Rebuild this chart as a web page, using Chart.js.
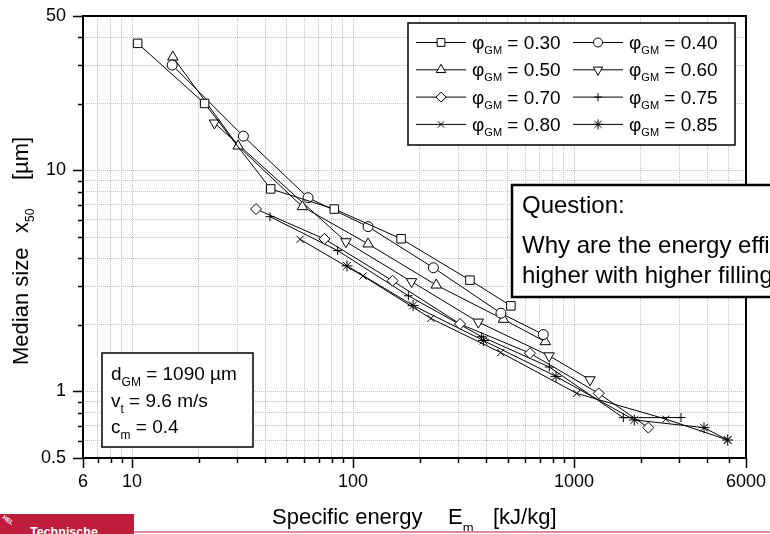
<!DOCTYPE html>
<html>
<head>
<meta charset="utf-8">
<title>Median size vs specific energy</title>
<script src="https://cdn.jsdelivr.net/npm/chart.js"></script>
<style>
  body { margin: 0; background: #fff; }
  #wrap { position: relative; width: 770px; height: 534px; overflow: hidden; background: #fff; }
  #logo { position: absolute; left: 0; top: 514px; width: 134px; height: 20px; background: #be1e3c; overflow: hidden; }
  #logo span { position: absolute; left: 30px; top: 11px; color: #fff; font: bold 12.5px "Liberation Sans", Arial, sans-serif; }
  #logo i { position: absolute; left: 2px; top: 3px; color: #fff; font: bold 6px "Liberation Sans", Arial, sans-serif; font-style: normal; transform: rotate(35deg); }
  #rule { position: absolute; left: 134px; top: 531px; width: 636px; height: 2px; background: #dc8c9c; }
</style>
</head>
<body>
<div id="wrap">
  <canvas id="chart" width="770" height="534"></canvas>
  <div id="logo"><i>HEL</i><span>Technische</span></div>
  <div id="rule"></div>
</div>
<script>
// tick values (grid) and labelled ticks
const xTicks = [6, 7, 8, 9, 10, 20, 30, 40, 50, 60, 70, 80, 90, 100, 200, 300, 400, 500, 600, 700, 800, 900, 1000, 2000, 3000, 4000, 5000, 6000];
const xTickLabels = [6, 10, 100, 1000, 6000];
const yTicks = [0.5, 0.6, 0.7, 0.8, 0.9, 1, 2, 3, 4, 5, 6, 7, 8, 9, 10, 20, 30, 40, 50];
const yTickLabels = [0.5, 1, 10, 50];

// filling ratio phi_GM
const phiValues = ["0.30", "0.40", "0.50", "0.60", "0.70", "0.75", "0.80", "0.85"];

// specific energy E_m [kJ/kg] and median size x50 [um] per filling ratio
const e30 = [10.6, 21.3, 42.4, 82.3, 165, 338, 518];
const x30 = [37.6, 20.1, 8.25, 6.69, 4.91, 3.19, 2.44];
const e40 = [15.2, 31.9, 62.6, 117, 231, 467, 726];
const x40 = [30.0, 14.3, 7.53, 5.57, 3.63, 2.26, 1.81];
const e50 = [15.3, 30.2, 59.0, 117, 238, 479, 742];
const x50s = [32.6, 12.9, 6.86, 4.65, 3.03, 2.12, 1.68];
const e60 = [23.6, 92.9, 184, 369, 771, 1181];
const x60 = [16.4, 4.76, 3.14, 2.06, 1.45, 1.13];
const e70 = [36.4, 74.2, 151, 305, 632, 1293, 2169];
const x70 = [6.69, 4.90, 3.17, 2.02, 1.49, 0.98, 0.686];
const e75 = [42.1, 85.2, 178, 382, 773, 1671, 3048];
const x75 = [6.18, 4.34, 2.71, 1.77, 1.29, 0.761, 0.762];
const e80 = [57.6, 111, 225, 466, 1029, 2601, 4957];
const x80 = [4.88, 3.33, 2.14, 1.50, 0.98, 0.75, 0.603];
const e85 = [93.9, 187, 389, 829, 1874, 3874, 4957];
const x85 = [3.70, 2.45, 1.70, 1.17, 0.743, 0.686, 0.603];

const energies = [e30, e40, e50, e60, e70, e75, e80, e85];
const sizes = [x30, x40, x50s, x60, x70, x75, x80, x85];

// marker looks
const styles = [
    { pointStyle: "rect", rotation: 0, radius: 6 },
    { pointStyle: "circle", rotation: 0, radius: 5 },
    { pointStyle: "triangle", rotation: 0, radius: 6 },
    { pointStyle: "triangle", rotation: 180, radius: 6 },
    { pointStyle: "rectRot", rotation: 0, radius: 5.5 },
    { pointStyle: "cross", rotation: 0, radius: 4.5 },
    { pointStyle: "crossRot", rotation: 0, radius: 5 },
    { pointStyle: "star", rotation: 0, radius: 5.5 }
];

const FONT = '"Liberation Sans", Arial, sans-serif';

const datasets = phiValues.map((phi, i) => ({
    label: "phi_GM = " + phi,
    data: energies[i].map((e, k) => ({ x: e, y: sizes[i][k] })),
    showLine: true,
    borderColor: "#000",
    borderWidth: 1,
    tension: 0,
    pointStyle: styles[i].pointStyle,
    pointRotation: styles[i].rotation,
    pointRadius: styles[i].radius,
    pointHoverRadius: styles[i].radius,
    pointBackgroundColor: "#fff",
    pointBorderColor: "#000",
    pointBorderWidth: 1,
    clip: false
}));

// draw text made of parts, some of them subscript
function richText(ctx, parts, x, y, size, subSize, drop) {
    let cx = x;
    parts.forEach(p => {
        if (p.at !== undefined) cx = x + p.at;
        ctx.font = (p.sub ? subSize : size) + "px " + FONT;
        ctx.fillText(p.t, cx, p.sub ? y + drop : y);
        cx += ctx.measureText(p.t).width;
    });
    return cx;
}

function marker(ctx, st, x, y) {
    ctx.save();
    ctx.fillStyle = "#fff";
    ctx.strokeStyle = "#000";
    ctx.lineWidth = 1;
    Chart.helpers.drawPoint(ctx, { pointStyle: st.pointStyle, rotation: st.rotation, radius: st.radius - 0.5, borderWidth: 1 }, x, y);
    ctx.restore();
}

const decorPlugin = {
    id: "decor",
    afterDatasetsDraw(chart) {
        const ctx = chart.ctx;
        const a = chart.chartArea;
        const sx = chart.scales.x, sy = chart.scales.y;
        ctx.save();
        ctx.strokeStyle = "#000";
        ctx.fillStyle = "#000";

        // frame
        ctx.lineWidth = 2;
        ctx.strokeRect(a.left, a.top, a.right - a.left, a.bottom - a.top);

        // outward tick marks
        ctx.lineWidth = 1.5;
        ctx.beginPath();
        sx.ticks.forEach(t => {
            const px = Math.round(sx.getPixelForValue(t.value)) + 0.5;
            const len = xTickLabels.includes(t.value) ? 10 : 5;
            ctx.moveTo(px, a.bottom);
            ctx.lineTo(px, a.bottom + len);
        });
        sy.ticks.forEach(t => {
            const py = Math.round(sy.getPixelForValue(t.value)) + 0.5;
            const len = yTickLabels.includes(t.value) ? 10 : 5;
            ctx.moveTo(a.left, py);
            ctx.lineTo(a.left - len, py);
        });
        ctx.stroke();

        // legend box
        ctx.fillStyle = "#fff";
        ctx.fillRect(408, 23, 327, 122);
        ctx.lineWidth = 1.5;
        ctx.strokeRect(408, 23, 327, 122);
        ctx.fillStyle = "#000";
        ctx.textBaseline = "alphabetic";
        ctx.textAlign = "left";
        phiValues.forEach((phi, i) => {
            const col = i % 2, row = Math.floor(i / 2);
            const x0 = col === 0 ? 416 : 573;
            const yc = 42 + row * 27.3;
            ctx.lineWidth = 1;
            ctx.beginPath();
            ctx.moveTo(x0, yc + 0.5);
            ctx.lineTo(x0 + 50, yc + 0.5);
            ctx.stroke();
            marker(ctx, styles[i], x0 + 25, yc + 0.5);
            richText(ctx, [{ t: "φ" }, { t: "GM", sub: true }, { t: " = " + phi }], x0 + 56, yc + 7, 19, 11, 5);
        });

        // parameter box
        ctx.fillStyle = "#fff";
        ctx.fillRect(102, 353, 151, 94);
        ctx.lineWidth = 1.5;
        ctx.strokeRect(102, 353, 151, 94);
        ctx.fillStyle = "#000";
        richText(ctx, [{ t: "d" }, { t: "GM", sub: true }, { t: " = 1090 µm" }], 111, 380, 19, 12, 6);
        richText(ctx, [{ t: "v" }, { t: "t", sub: true }, { t: " = 9.6 m/s" }], 111, 407, 19, 12, 6);
        richText(ctx, [{ t: "c" }, { t: "m", sub: true }, { t: " = 0.4" }], 111, 433, 19, 12, 6);

        // question box
        ctx.fillStyle = "#fff";
        ctx.fillRect(512, 185, 300, 112);
        ctx.lineWidth = 2.5;
        ctx.strokeRect(512, 185, 300, 112);
        ctx.fillStyle = "#000";
        ctx.font = "24px " + FONT;
        ctx.fillText("Question:", 522, 213);
        ctx.fillText("Why are the energy efficiencies", 522, 253);
        ctx.fillText("higher with higher filling ratios?", 522, 283);

        // axis titles
        richText(ctx, [{ t: "Specific energy" }, { t: "E", at: 176 }, { t: "m", sub: true }, { t: "[kJ/kg]", at: 221 }], 272, 524, 22, 13, 8);

        ctx.translate(28, 365);
        ctx.rotate(-Math.PI / 2);
        richText(ctx, [{ t: "Median size" }, { t: "x", at: 132 }, { t: "50", sub: true }, { t: "[µm]", at: 185 }], 0, 0, 22, 12, 6);
        ctx.restore();
    }
};

new Chart(document.getElementById("chart"), {
    type: "scatter",
    data: { datasets: datasets },
    options: {
        responsive: false,
        animation: false,
        devicePixelRatio: 1,
        layout: { padding: { top: 16, right: 24, bottom: 0, left: 0 } },
        plugins: {
            legend: { display: false },
            tooltip: { enabled: false }
        },
        scales: {
            x: {
                type: "logarithmic",
                min: 6,
                max: 6000,
                afterBuildTicks: s => { s.ticks = xTicks.map(v => ({ value: v })); },
                afterFit: s => { s.height = 76; s.paddingLeft = 0; s.paddingRight = 0; },
                grid: { color: "#c2c2c2", lineWidth: 1, drawTicks: false },
                border: { display: false, dash: [1, 1] },
                ticks: {
                    autoSkip: false,
                    maxRotation: 0,
                    padding: 13,
                    color: "#000",
                    font: { family: FONT, size: 18 },
                    callback: v => xTickLabels.includes(v) ? String(v) : ""
                }
            },
            y: {
                type: "logarithmic",
                min: 0.5,
                max: 50,
                afterBuildTicks: s => { s.ticks = yTicks.map(v => ({ value: v })); },
                afterFit: s => { s.width = 83; s.paddingTop = 0; s.paddingBottom = 0; },
                grid: { color: "#c2c2c2", lineWidth: 1, drawTicks: false },
                border: { display: false, dash: [1, 1] },
                ticks: {
                    autoSkip: false,
                    padding: 17,
                    color: "#000",
                    font: { family: FONT, size: 18 },
                    callback: v => yTickLabels.includes(v) ? String(v) : ""
                }
            }
        }
    },
    plugins: [decorPlugin]
});
</script>
</body>
</html>
